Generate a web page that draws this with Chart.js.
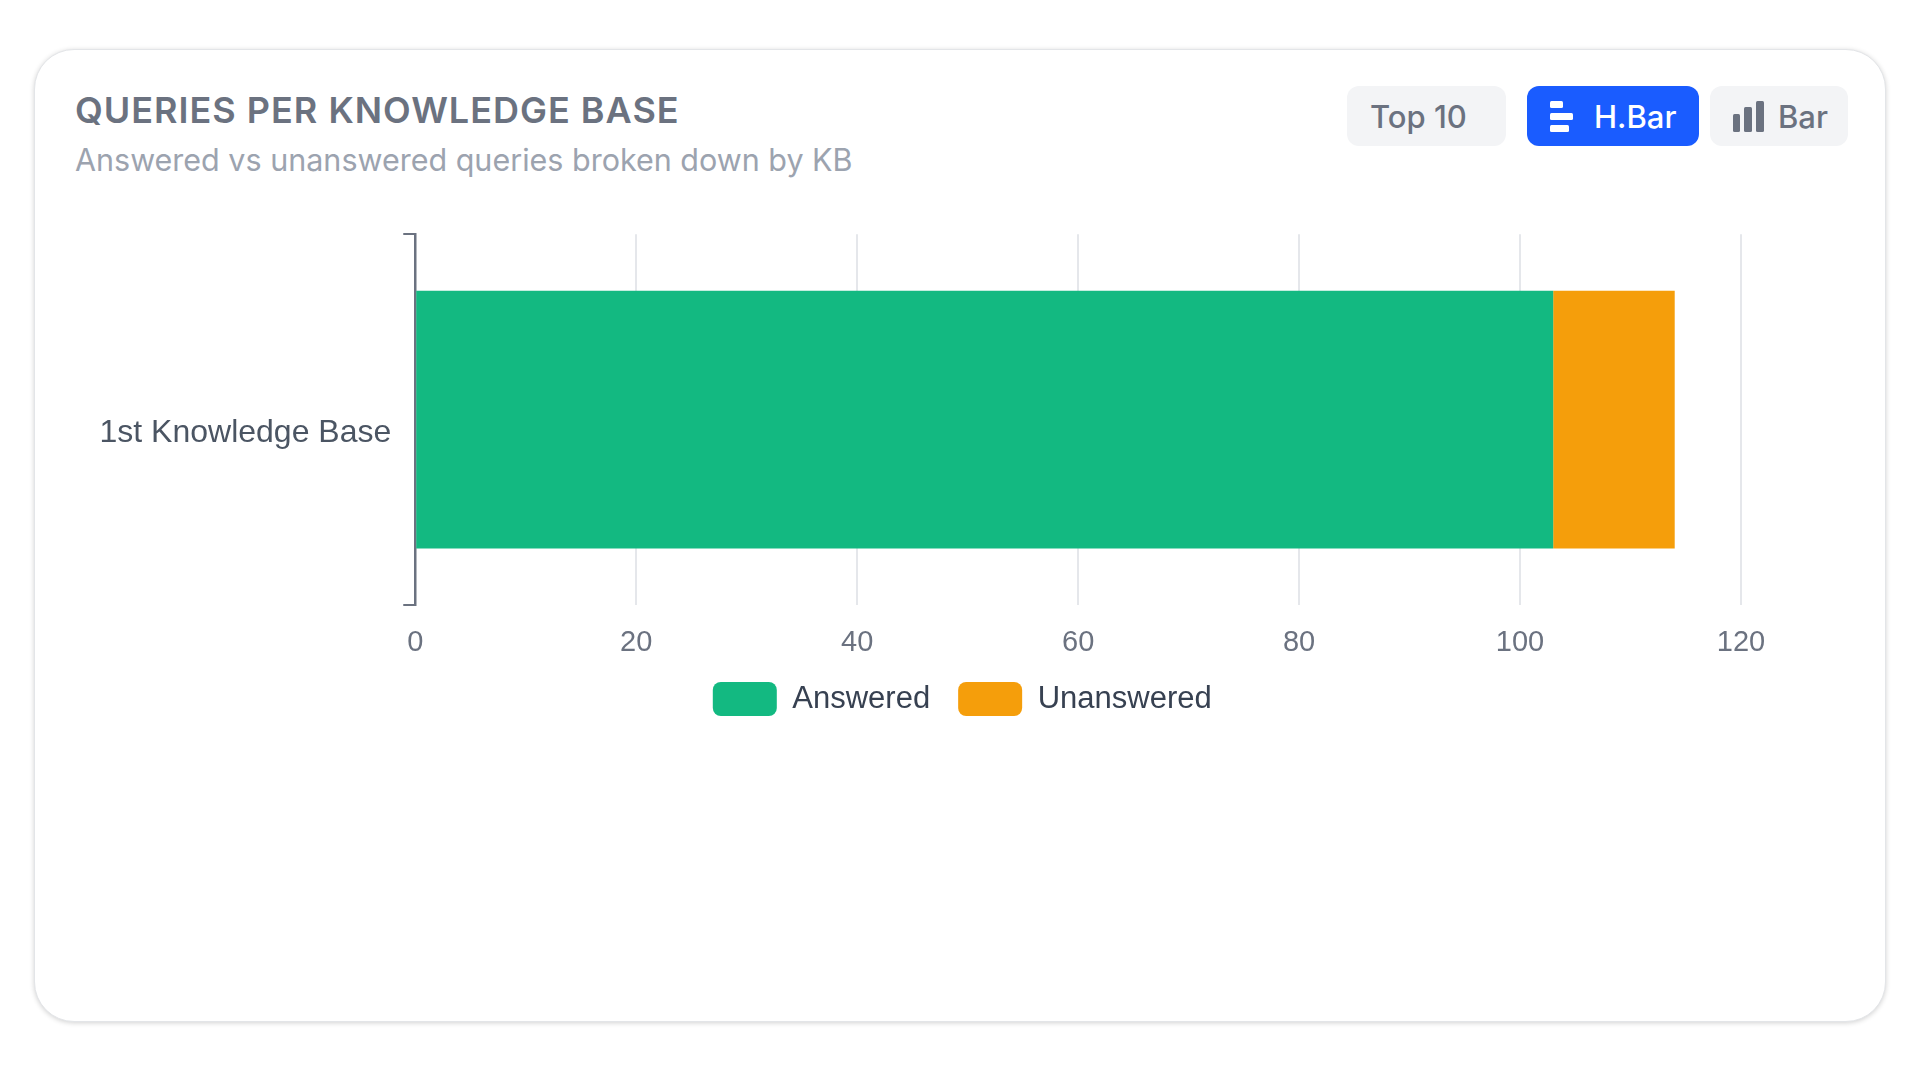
<!DOCTYPE html>
<html lang="en">
<head>
  <meta charset="UTF-8">
  <title>Queries per Knowledge Base</title>
  <script src="https://cdn.jsdelivr.net/npm/chart.js@4.4.1/dist/chart.umd.min.js"></script>
  <style>
    html, body { margin: 0; padding: 0; background: #ffffff; }
    body { width: 1920px; height: 1080px; position: relative; overflow: hidden; font-family: Inter, "Noto Sans", sans-serif; }
    .card {
      position: absolute; left: 34px; top: 49px; width: 1852px; height: 973px;
      box-sizing: border-box; border: 1px solid #e3e5e8; border-radius: 40px;
      box-shadow: 0 1px 5px rgba(0, 0, 0, 0.18);
      background: #fff;
    }
    .title {
      position: absolute; left: 75px; top: 88px; margin: 0;
      font-size: 36px; font-weight: 600; letter-spacing: 1px; color: #6b7280; line-height: 44px;
    }
    .subtitle {
      position: absolute; left: 75px; top: 140px; margin: 0;
      font-size: 30.5px; font-weight: 400; color: #9ca3af; line-height: 40px;
    }
    .btn {
      position: absolute; top: 86px; height: 60px; border-radius: 12px; padding-left: 23px;
      box-sizing: border-box; display: flex; align-items: center; justify-content: flex-start;
      font-size: 31px; font-weight: 500; color: #6b7280; background: #f3f4f6;
    }
    .btn svg { margin-right: 20px; }
    #top10 { left: 1347px; width: 159px; }
    #hbar { left: 1527px; width: 172px; background: #1a5cff; color: #fff; }
    #vbar { left: 1710px; width: 138px; }
    #vbar svg { margin-right: 14px; }
    #chartBox { position: absolute; left: 75px; top: 203px; width: 1770px; height: 523px; }
  </style>
</head>
<body>
  <div class="card"></div>
  <h2 class="title">QUERIES PER KNOWLEDGE BASE</h2>
  <p class="subtitle">Answered vs unanswered queries broken down by KB</p>

  <div class="btn" id="top10">Top 10</div>
  <div class="btn" id="hbar">
    <svg width="24" height="31" viewBox="0 0 24 31">
      <rect x="0" y="0" width="13" height="7" rx="1.5" fill="#fff"/>
      <rect x="0" y="12" width="23" height="7" rx="1.5" fill="#fff"/>
      <rect x="0" y="24" width="19" height="7" rx="1.5" fill="#fff"/>
    </svg>H.Bar
  </div>
  <div class="btn" id="vbar">
    <svg width="31" height="31" viewBox="0 0 31 31">
      <rect x="0" y="13" width="7" height="18" rx="1.5" fill="#6b7280"/>
      <rect x="11" y="6" width="8" height="25" rx="1.5" fill="#6b7280"/>
      <rect x="23" y="0" width="8" height="31" rx="1.5" fill="#6b7280"/>
    </svg>Bar
  </div>

  <div id="chartBox"><canvas id="kbChart"></canvas></div>

  <script>
    // values
    const categories = ['1st Knowledge Base'];
    const seriesNames = ['Answered', 'Unanswered'];
    const answered = [103];
    const unanswered = [11];
    const seriesColors = ['#13b981', '#f59e0b'];
    const xMax = 120;
    const xStep = 20;

    const chartFont = '"Liberation Sans", Arial, sans-serif';

    const ctx = document.getElementById('kbChart').getContext('2d');
    const chart = new Chart(ctx, {
      type: 'bar',
      data: {
        labels: categories,
        datasets: [
          { label: seriesNames[0], data: answered, backgroundColor: seriesColors[0], borderWidth: 0 },
          { label: seriesNames[1], data: unanswered, backgroundColor: seriesColors[1], borderWidth: 0 }
        ]
      },
      options: {
        indexAxis: 'y',
        responsive: true,
        maintainAspectRatio: false,
        animation: false,
        barPercentage: 0.695,
        categoryPercentage: 1,
        layout: { padding: { left: 12.5, right: 8, top: 20, bottom: 0 } },
        plugins: {
          legend: {
            position: 'bottom',
            labels: {
              boxWidth: 64,
              boxHeight: 34,
              useBorderRadius: true,
              borderRadius: 8,
              padding: 28,
              color: '#374151',
              font: { family: chartFont, size: 31 }
            }
          },
          tooltip: { enabled: false }
        },
        scales: {
          x: {
            stacked: true,
            beginAtZero: true,
            max: xMax,
            ticks: {
              stepSize: xStep,
              padding: 20,
              color: '#6b7280',
              font: { family: chartFont, size: 29 }
            },
            grid: { color: '#e5e7eb', lineWidth: 2, drawTicks: false },
            border: { display: false },
            afterFit: function (scale) { scale.height -= 26; }
          },
          y: {
            stacked: true,
            ticks: {
              padding: 12,
              labelOffset: 13,
              color: '#4b5563',
              font: { family: chartFont, size: 32 }
            },
            grid: { drawOnChartArea: false, tickLength: 12, tickColor: '#6b7280', lineWidth: 2 },
            border: { color: '#6b7280', width: 2.5 }
          },
          // empty right-hand gutter so the legend centres on the card like the original
          gutter: {
            type: 'category',
            position: 'right',
            grid: { display: false },
            border: { display: false },
            ticks: { display: false },
            afterFit: function (scale) { scale.width = 96; }
          }
        }
      }
    });
  </script>
</body>
</html>
